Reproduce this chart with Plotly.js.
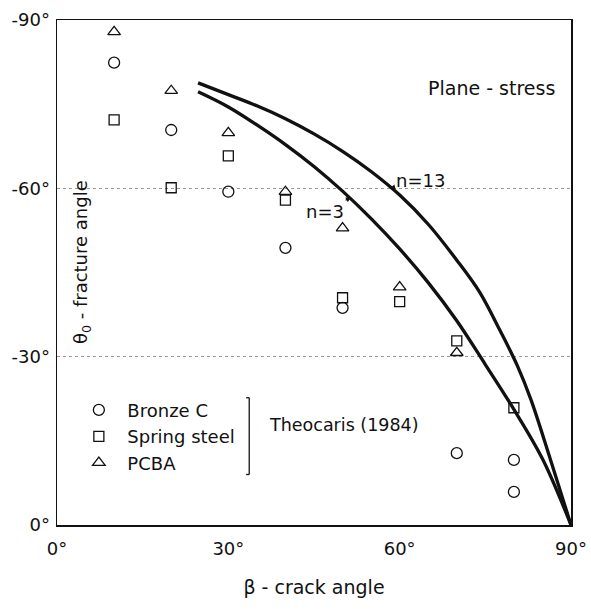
<!DOCTYPE html>
<html>
<head>
<meta charset="utf-8">
<script src="https://cdn.plot.ly/plotly-3.0.1.min.js"></script>
<style>html,body{margin:0;padding:0;background:#fff;}#chart{width:591px;height:609px;}</style>
</head>
<body>
<div id="chart"></div>
<script>
// Experimental data (Theocaris 1984)
const bronzeX = [10, 20, 30, 40, 50, 70, 80, 80];
const bronzeY = [-82.4, -70.4, -59.4, -49.4, -38.7, -12.8, -11.6, -5.9];
const steelX = [10, 20, 30, 40, 50, 60, 70, 80];
const steelY = [-72.2, -60.1, -65.8, -57.9, -40.5, -39.8, -32.8, -20.9];
const pcbaX = [10, 20, 30, 40, 50, 60, 70];
const pcbaY = [-87.9, -77.4, -69.9, -59.4, -52.9, -42.4, -30.7];

// Theoretical curves
const n13X = [24.7, 30, 35, 40, 45, 50, 55, 60, 65, 70, 74, 77.6, 80.6, 83, 86.3, 90];
const n13Y = [-78.8, -76.7, -74.7, -72.4, -69.7, -66.6, -63.0, -58.8, -53.6, -47.2, -41.5, -34.6, -28.4, -22.3, -12.0, 0];
const n3X = [24.7, 30, 35, 40, 45, 50, 55, 60, 65, 70, 75, 80, 85, 90];
const n3Y = [-77.2, -74.5, -71.3, -67.8, -63.9, -59.5, -54.6, -49.2, -43.2, -36.4, -28.6, -20.6, -11.8, 0];

const xTickVals = [0, 30, 60, 90];
const xTickText = ['0°', '30°', '60°', '90°'];
const yTickVals = [-90, -60, -30, 0];
const yTickText = ['-90°', '-60°', '-30°', '0°'];

const FONT = 'DejaVu Sans, Liberation Sans, sans-serif';
const INK = '#111';
const mk = (sym, s) => ({symbol: sym, size: s, color: INK, line: {color: INK, width: 1.3}});

const traces = [
  {x: n13X, y: n13Y, mode: 'lines', line: {color: INK, width: 3.3, shape: 'spline', smoothing: 1}, showlegend: false, hoverinfo: 'skip'},
  {x: n3X, y: n3Y, mode: 'lines', line: {color: INK, width: 3.3, shape: 'spline', smoothing: 1}, showlegend: false, hoverinfo: 'skip'},
  {x: bronzeX, y: bronzeY, mode: 'markers', name: 'Bronze C', marker: mk('circle-open', 11)},
  {x: steelX, y: steelY, mode: 'markers', name: 'Spring steel', marker: mk('square-open', 10)},
  {x: pcbaX, y: pcbaY, mode: 'markers', name: 'PCBA', marker: mk('triangle-up-open', 11)}
];

const txt = (size) => ({family: FONT, size: size, color: INK});

const layout = {
  width: 591, height: 609,
  margin: {l: 57, r: 20, t: 20, b: 84},
  paper_bgcolor: '#fff', plot_bgcolor: '#fff',
  font: txt(18),
  showlegend: true,
  legend: {x: 0.026, y: 0.264, xanchor: 'left', yanchor: 'top', bgcolor: 'rgba(0,0,0,0)',
           font: txt(18), tracegroupgap: 0, itemwidth: 47},
  xaxis: {range: [0, 90], tickvals: xTickVals, ticktext: xTickText, ticks: '', showgrid: false,
          zeroline: false, showline: true, mirror: true, linecolor: INK, linewidth: 1.5,
          ticklabelstandoff: 7, tickfont: txt(18),
          title: {text: 'β - crack angle', standoff: 22, font: txt(19)}},
  yaxis: {range: [0, -90], tickvals: yTickVals, ticktext: yTickText, ticks: '', tickfont: txt(18),
          showgrid: true, gridcolor: '#999', griddash: 'dot', gridwidth: 1,
          zeroline: false, showline: true, mirror: true, linecolor: INK, linewidth: 1.5,
          ticklabelstandoff: 2},
  shapes: [
    {type: 'line', xref: 'paper', yref: 'paper', x0: 0.374, x1: 0.374, y0: 0.1, y1: 0.252, line: {color: INK, width: 1.3}},
    {type: 'line', xref: 'paper', yref: 'paper', x0: 0.368, x1: 0.374, y0: 0.252, y1: 0.252, line: {color: INK, width: 1.3}},
    {type: 'line', xref: 'paper', yref: 'paper', x0: 0.368, x1: 0.374, y0: 0.1, y1: 0.1, line: {color: INK, width: 1.3}}
  ],
  annotations: [
    {text: 'θ<sub>0</sub> - fracture angle', xref: 'paper', yref: 'paper', x: 0.049, y: 0.521,
     xanchor: 'center', yanchor: 'middle', textangle: -90, showarrow: false, font: txt(18)},
    {text: 'Plane - stress', xref: 'paper', yref: 'paper', x: 0.846, y: 0.865,
     xanchor: 'center', yanchor: 'middle', showarrow: false, font: txt(19)},
    {text: 'Theocaris (1984)', xref: 'paper', yref: 'paper', x: 0.558, y: 0.198,
     xanchor: 'center', yanchor: 'middle', showarrow: false, font: txt(17.5)},
    {text: 'n=13', x: 58.3, y: -60.0, ax: 31, ay: -8, showarrow: true, arrowhead: 2, arrowsize: 0.8,
     arrowwidth: 1.3, arrowcolor: INK, font: txt(18)},
    {text: 'n=3', x: 51.5, y: -58.4, ax: -26, ay: 14, showarrow: true, arrowhead: 2, arrowsize: 0.8,
     arrowwidth: 1.3, arrowcolor: INK, font: txt(18)}
  ]
};

Plotly.newPlot('chart', traces, layout, {displayModeBar: false, staticPlot: true});
</script>
</body>
</html>
